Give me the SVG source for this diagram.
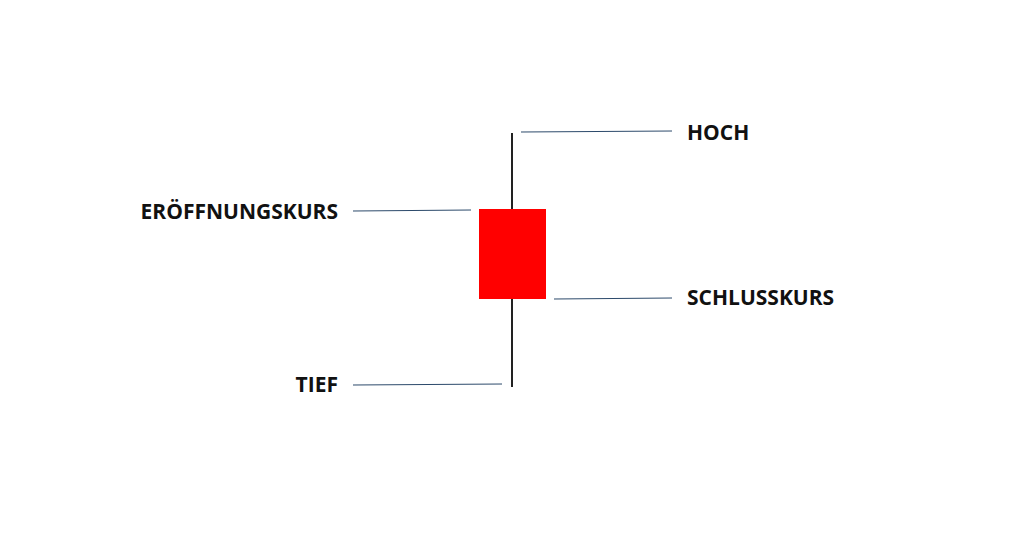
<svg xmlns="http://www.w3.org/2000/svg" width="1022" height="537" viewBox="0 0 1022 537">
<style>
.lbl{font-family:"Open Sans","Noto Sans",sans-serif;font-weight:bold;font-size:21px;fill:#111}
.ln{stroke:#2c4a6b;stroke-width:1}
</style>
<rect width="1022" height="537" fill="#fff"/>
<g id="candle">
<line x1="512" y1="133" x2="512" y2="387" stroke="#222" stroke-width="2"/>
<rect x="479" y="209" width="67" height="90" fill="#ff0000"/>
</g>
<g id="connectors">
<line class="ln" x1="521" y1="132" x2="672" y2="131"/>
<line class="ln" x1="353" y1="211" x2="471" y2="210"/>
<line class="ln" x1="554" y1="299" x2="672" y2="298"/>
<line class="ln" x1="353" y1="385" x2="502" y2="384"/>
</g>
<g id="hoch"><text class="lbl" x="687" y="140">HOCH</text></g>
<g id="open"><text class="lbl" x="338" y="219" text-anchor="end">ERÖFFNUNGSKURS</text></g>
<g id="close"><text class="lbl" x="687" y="305">SCHLUSSKURS</text></g>
<g id="tief"><text class="lbl" x="338" y="392" text-anchor="end">TIEF</text></g>
</svg>
